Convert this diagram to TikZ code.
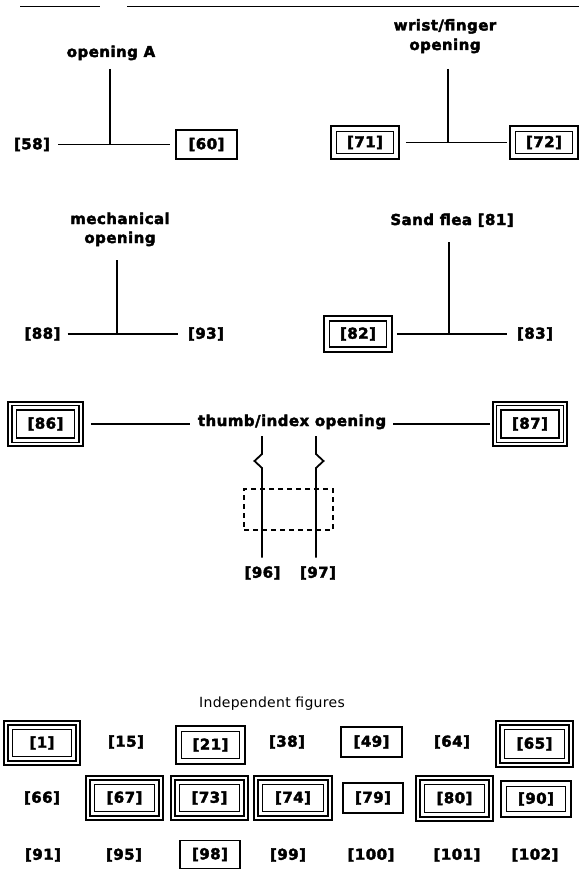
\documentclass[tikz,border=0pt]{standalone}
\usepackage{fontspec}
\setmainfont{DejaVu Sans}
\newfontfamily\chic[LetterSpace=3, BoldFeatures={FakeBold=2.5}]{DejaVu Sans}
\newfontfamily\genev[LetterSpace=2]{DejaVu Sans}
\begin{document}
\begin{tikzpicture}[x=1pt,y=-1pt,
  lbl/.style={font=\chic\bfseries\fontsize{15}{17}\selectfont, inner sep=0pt},
  ttl/.style={font=\genev\fontsize{14}{16}\selectfont, inner sep=0pt, anchor=base},
  conn/.style={line width=1.8pt},
  sbox/.style={lbl, draw, line width=1.7pt, minimum width=61pt, minimum height=29pt},
  ibox/.style={lbl, draw, line width=1.5pt, minimum width=59pt, minimum height=27pt},
  frame/.style={line width=1.3pt},
  oframe/.style={line width=2.3pt},
  dashbox/.style={draw, dash pattern=on 5pt off 4pt, line width=1.6pt, inner sep=0pt}
]
\useasboundingbox (0,0) rectangle (579,869);
\fill[white] (0,0) rectangle (579,869);

% top rule
\draw[line width=1.4pt] (20,6.5) -- (100,6.5) (127,6.5) -- (579,6.5);

% opening A
\node[lbl, anchor=base] (tA) at (111,57) {opening A};
\node[lbl] (f58) at (32,144.5) {[58]};
\node[sbox] (f60) at (206.5,144.5) {[60]};
\coordinate (vA) at (110,69);
\coordinate (jA) at (110,144.5);
\draw[conn] (vA) -- (jA);
\draw[conn, shorten <=8pt, shorten >=5.5pt] (f58.east) -- (f60.west);

% wrist/finger opening
\node[lbl, anchor=base] (tW1) at (445,30.5) {wrist/finger};
\node[lbl, anchor=base] (tW2) at (445,50) {opening};
\node[ibox, minimum width=57pt, minimum height=22pt] (f71) at (365,142.5) {[71]};
\node[ibox, minimum width=57pt, minimum height=22pt] (f72) at (544,142.5) {[72]};
\coordinate (vW) at (448,69);
\coordinate (jW) at (448,142.5);
\draw[conn] (vW) -- (jW);
\draw[conn, shorten <=11.5pt, shorten >=7.5pt] (f71.east) -- (f72.west);

% mechanical opening
\node[lbl, anchor=base] (tM1) at (120,224) {mechanical};
\node[lbl, anchor=base] (tM2) at (120,243) {opening};
\node[lbl] (f88) at (42.5,334) {[88]};
\node[lbl] (f93) at (206,334) {[93]};
\coordinate (vM) at (117,260);
\coordinate (jM) at (117,334);
\draw[conn] (vM) -- (jM);
\draw[conn, shorten <=7pt, shorten >=10pt] (f88.east) -- (f93.west);

% Sand flea
\node[lbl, anchor=base] (tS) at (452,225) {Sand flea [81]};
\node[ibox, minimum width=57pt, minimum height=26pt] (f82) at (358,334) {[82]};
\node[lbl] (f83) at (535,334) {[83]};
\coordinate (vS) at (449,242);
\coordinate (jS) at (449,334);
\draw[conn] (vS) -- (jS);
\draw[conn, shorten <=9.5pt, shorten >=10pt] (f82.east) -- (f83.west);

% thumb/index opening
\node[lbl, anchor=base] (tT) at (292,426) {thumb/index opening};
\node[ibox, minimum width=58pt, minimum height=28pt] (f86) at (45.5,424) {[86]};
\node[ibox, minimum width=58pt, minimum height=28pt] (f87) at (530,424) {[87]};
\draw[conn, shorten <=15.5pt, shorten >=8pt] (f86.east) -- (f86.east -| tT.west);
\draw[conn, shorten <=7pt, shorten >=10pt] (f87.west -| tT.east) -- (f87.west);

\node[lbl] (f96) at (262.5,573) {[96]};
\node[lbl] (f97) at (318,573) {[97]};
\coordinate (w1) at (262,436);
\coordinate (w2) at (316,436);
\node[dashbox, minimum width=89pt, minimum height=41pt] (dbx) at (288.5,509.5) {};
\draw[conn, shorten >=8.5pt] (w1) -- ++(0,18) -- ++(-7.5,7) -- ++(7.5,7) -- (w1 |- f96.north);
\draw[conn, shorten >=8.5pt] (w2) -- ++(0,18) -- ++(7.5,7) -- ++(-7.5,7) -- (w2 |- f97.north);

% Independent figures
\node[ttl] (ttl) at (272,707) {Independent figures};

\node[ibox] (f1) at (42,743) {[1]};
\node[lbl] (f15) at (126,742) {[15]};
\node[ibox, minimum width=58pt] (f21) at (210.5,745) {[21]};
\node[lbl] (f38) at (287,742) {[38]};
\node[sbox, minimum height=30pt] (f49) at (371.5,742) {[49]};
\node[lbl] (f64) at (452,742) {[64]};
\node[ibox, minimum width=60pt, minimum height=29pt] (f65) at (534.5,744) {[65]};

\node[lbl] (f66) at (42,798) {[66]};
\node[ibox, minimum width=60pt] (f67) at (124.5,798) {[67]};
\node[ibox, minimum width=60pt] (f73) at (209.5,798) {[73]};
\node[ibox, minimum width=61pt] (f74) at (293,798) {[74]};
\node[sbox, minimum width=60pt, minimum height=30pt] (f79) at (373,798) {[79]};
\node[ibox, minimum width=60pt, minimum height=28pt] (f80) at (454.5,798.5) {[80]};
\node[ibox, minimum height=25pt] (f90) at (536,799) {[90]};

\node[lbl] (f91) at (43,855) {[91]};
\node[lbl] (f95) at (124,855) {[95]};
\node[sbox, minimum width=60pt, minimum height=28pt] (f98) at (210,854.5) {[98]};
\node[lbl] (f99) at (288,855) {[99]};
\node[lbl] (f100) at (371,855) {[100]};
\node[lbl] (f101) at (457,855) {[101]};
\node[lbl] (f102) at (535,855) {[102]};

% double frames
\foreach \n in {f71,f72,f82,f21,f90}
  \draw[oframe] ([shift={(-4.5,-4.5)}]\n.north west) rectangle ([shift={(4.5,4.5)}]\n.south east);
% triple frames
\foreach \n in {f86,f87,f1,f65,f67,f73,f74,f80} {
  \draw[frame] ([shift={(-3.7,-3.7)}]\n.north west) rectangle ([shift={(3.7,3.7)}]\n.south east);
  \draw[oframe] ([shift={(-7.5,-7.5)}]\n.north west) rectangle ([shift={(7.5,7.5)}]\n.south east);
}
\end{tikzpicture}
\end{document}
